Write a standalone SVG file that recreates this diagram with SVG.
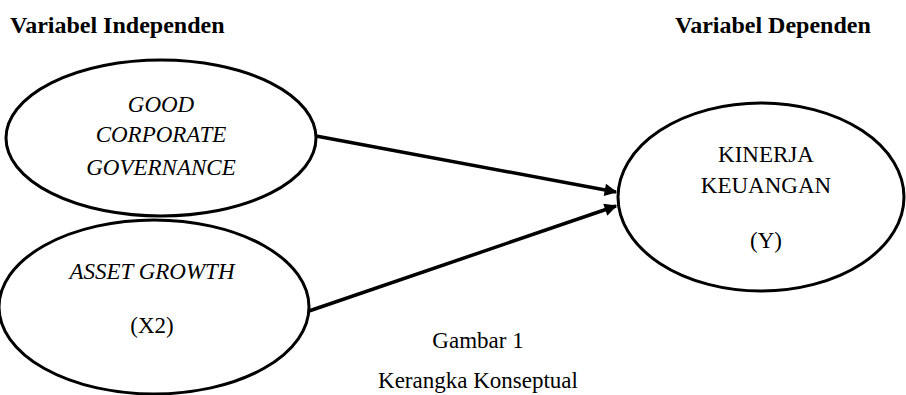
<svg xmlns="http://www.w3.org/2000/svg" width="906" height="395" viewBox="0 0 906 395">
<defs>
<marker id="arr" viewBox="0 0 10 10" refX="9" refY="5" markerWidth="4.2" markerHeight="3.6" markerUnits="strokeWidth" orient="auto">
<path d="M0,0 L10,5 L0,10 z" fill="#000"/>
</marker>
</defs>
<rect width="906" height="395" fill="#fff"/>
<text font-family="Liberation Serif" font-size="24" font-weight="bold" x="10" y="33">Variabel Independen</text>
<text font-family="Liberation Serif" font-size="24" font-weight="bold" x="675" y="33">Variabel Dependen</text>
<g id="connectors" stroke="#000" stroke-width="3.5" fill="none">
<line x1="316" y1="136" x2="616" y2="192" marker-end="url(#arr)"/>
<line x1="309" y1="311" x2="616" y2="206" marker-end="url(#arr)"/>
</g>
<g id="node-gcg">
<ellipse cx="161" cy="138" rx="155" ry="78" fill="#fff" stroke="#000" stroke-width="3"/>
<text font-family="Liberation Serif" font-size="23" font-style="italic" text-anchor="middle" x="161" y="112">GOOD</text>
<text font-family="Liberation Serif" font-size="23" font-style="italic" text-anchor="middle" x="161" y="142">CORPORATE</text>
<text font-family="Liberation Serif" font-size="23" font-style="italic" text-anchor="middle" x="161" y="175">GOVERNANCE</text>
</g>
<g id="node-asset">
<ellipse cx="154" cy="307" rx="155" ry="87" fill="#fff" stroke="#000" stroke-width="3"/>
<text font-family="Liberation Serif" font-size="23" font-style="italic" text-anchor="middle" x="152" y="279">ASSET GROWTH</text>
<text font-family="Liberation Serif" font-size="23" text-anchor="middle" x="152" y="333">(X2)</text>
</g>
<g id="node-kinerja">
<ellipse cx="761" cy="197" rx="143" ry="94" fill="#fff" stroke="#000" stroke-width="3"/>
<text font-family="Liberation Serif" font-size="23" text-anchor="middle" x="766" y="162">KINERJA</text>
<text font-family="Liberation Serif" font-size="23" text-anchor="middle" x="766" y="193">KEUANGAN</text>
<text font-family="Liberation Serif" font-size="23" text-anchor="middle" x="766" y="248">(Y)</text>
</g>
<g id="caption">
<text font-family="Liberation Serif" font-size="23" text-anchor="middle" x="478" y="348">Gambar 1</text>
<text font-family="Liberation Serif" font-size="23" text-anchor="middle" x="478" y="388">Kerangka Konseptual</text>
</g>
</svg>
